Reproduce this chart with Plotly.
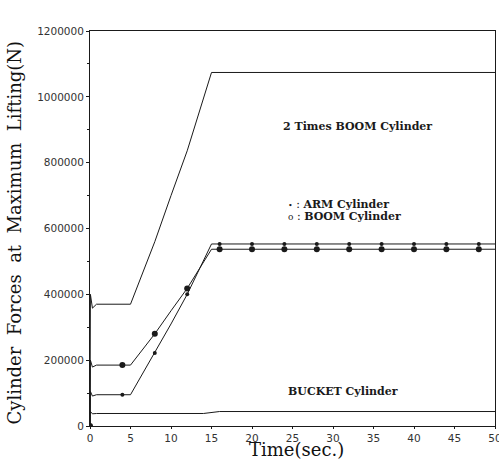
import plotly.graph_objects as go

# Simulated cylinder forces during maximum lifting (time in s, force in N)
boom2_t = [0, 0.05, 0.3, 0.8, 5, 8, 10, 12, 15, 50]
boom2_f = [0, 400000, 358000, 370000, 370000, 560000, 700000, 836000, 1074000, 1074000]

boom_t = [0, 0.05, 0.3, 0.8, 5, 8, 10, 12, 15, 50]
boom_f = [0, 200000, 179000, 185000, 185000, 280000, 350000, 418000, 537000, 537000]

arm_t = [0, 0.05, 0.3, 0.8, 5, 8, 10, 12, 15, 50]
arm_f = [0, 105000, 91000, 95000, 95000, 222000, 310000, 400000, 553000, 553000]

bucket_t = [0, 0.05, 0.3, 0.8, 14, 16, 50]
bucket_f = [0, 44000, 37000, 38000, 38000, 44000, 44000]

# Sampled marker points every 4 s
mark_t = [0, 4, 8, 12, 16, 20, 24, 28, 32, 36, 40, 44, 48]
arm_mark = [0, 95000, 222000, 400000, 553000, 553000, 553000, 553000, 553000, 553000, 553000, 553000, 553000]
boom_mark = [0, 185000, 280000, 418000, 537000, 537000, 537000, 537000, 537000, 537000, 537000, 537000, 537000]

x_ticks = [0, 5, 10, 15, 20, 25, 30, 35, 40, 45, 50]
y_ticks = [0, 200000, 400000, 600000, 800000, 1000000, 1200000]

LINE = dict(color="#1a1a1a", width=1)

fig = go.Figure()
fig.add_trace(go.Scatter(x=boom2_t, y=boom2_f, mode="lines", line=LINE))
fig.add_trace(go.Scatter(x=boom_t, y=boom_f, mode="lines", line=LINE))
fig.add_trace(go.Scatter(x=arm_t, y=arm_f, mode="lines", line=LINE))
fig.add_trace(go.Scatter(x=bucket_t, y=bucket_f, mode="lines", line=LINE))
fig.add_trace(go.Scatter(x=mark_t, y=arm_mark, mode="markers",
                         marker=dict(symbol="circle", size=4, color="#1a1a1a")))
fig.add_trace(go.Scatter(x=mark_t, y=boom_mark, mode="markers",
                         marker=dict(symbol="circle", size=6, color="#1a1a1a")))

label_font = dict(family="DejaVu Serif", size=11, color="#1a1a1a")
fig.add_annotation(x=33, y=910000, text="<b>2 Times BOOM Cylinder</b>", showarrow=False,
                   font=label_font, xanchor="center")
fig.add_annotation(x=24.2, y=672000, text="<span style='font-size:8px'>•</span> : <b>ARM Cylinder</b>",
                   showarrow=False, font=label_font, xanchor="left")
fig.add_annotation(x=24.2, y=636000, text="<span style='font-size:9px'>o</span> : <b>BOOM Cylinder</b>",
                   showarrow=False, font=label_font, xanchor="left")
fig.add_annotation(x=24.2, y=104000, text="<b>BUCKET Cylinder</b>", showarrow=False,
                   font=label_font, xanchor="left")

# Axis titles placed in pixel terms below / left of the plotting area
fig.add_annotation(xref="paper", yref="paper", x=0.51, y=-36 / 395, yanchor="bottom",
                   text="Time(sec.)", showarrow=False,
                   font=dict(family="DejaVu Serif", size=18, color="#111"))
fig.add_annotation(xref="paper", yref="paper", x=0, y=0.5, xshift=-76, yshift=-4,
                   xanchor="center",
                   text="Cylinder  Forces  at  Maximum  Lifting(N)", textangle=-90,
                   showarrow=False, font=dict(family="DejaVu Serif", size=18, color="#111"))

axis_common = dict(showline=True, linecolor="#1a1a1a", linewidth=1, mirror=True,
                   showgrid=False, zeroline=False, ticks="outside",
                   tickcolor="#1a1a1a", ticklabeloverflow="allow", automargin=False,
                   tickfont=dict(family="DejaVu Sans", size=10.5, color="#333"))
fig.update_xaxes(range=[0, 50], tickvals=x_ticks, ticklen=2, **axis_common)
fig.update_yaxes(range=[0, 1200000], tickvals=y_ticks, tickformat="d", ticklen=3,
                 minor=dict(dtick=100000, ticks="outside", ticklen=2, tickcolor="#1a1a1a"),
                 **axis_common)

fig.update_layout(width=499, height=462, showlegend=False,
                  margin=dict(l=90, r=4, t=31, b=36),
                  plot_bgcolor="white", paper_bgcolor="white")

fig.write_html("out.html")
